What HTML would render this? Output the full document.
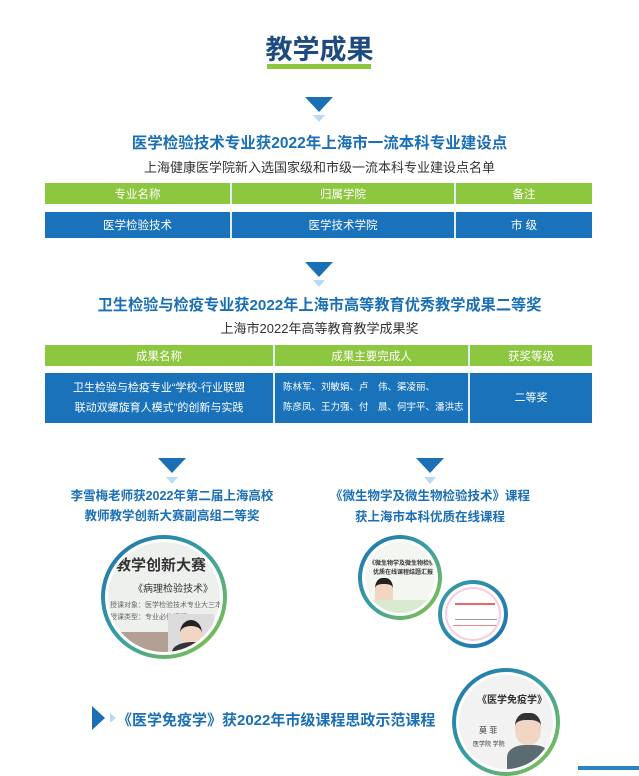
<!DOCTYPE html>
<html><head><meta charset="utf-8"><style>
*{margin:0;padding:0;box-sizing:border-box}
body{width:639px;height:770px;background:#fff;position:relative;overflow:hidden;font-family:"Liberation Sans","Noto Sans CJK SC",sans-serif}
.a{position:absolute}
.c{text-align:center}
.tri{position:absolute;width:0;height:0;border-left:14px solid transparent;border-right:14px solid transparent;border-top:15px solid #1a6fb5}
.tri2{position:absolute;width:0;height:0;border-left:6px solid transparent;border-right:6px solid transparent;border-top:7px solid #b9dcf2}
.h{position:absolute;left:0;width:639px;text-align:center;color:#1a6fb5;font-weight:bold;font-size:15.5px}
.s{position:absolute;left:0;width:639px;text-align:center;color:#333;font-size:13px}
.row{position:absolute;left:45px;width:547px;display:flex;color:#fff;font-size:11.5px}
.row>div{display:flex;align-items:center;justify-content:center;border-right:2px solid #dfeef8}
.row>div:last-child{border-right:none}
.g{background:#8dc63f}.b{background:#1a72bb}
.circ{position:absolute;border-radius:50%;padding:4px;background:linear-gradient(135deg,#1a6fb5,#3aa0a0 50%,#8dc63f)}
.circ>div{width:100%;height:100%;border-radius:50%;background:#fff;padding:3px}
.circ>div>div{width:100%;height:100%;border-radius:50%;background:#eef0ee;overflow:hidden;position:relative;font-size:9px;color:#333}
</style></head><body>
<div class="a c" style="left:0;width:639px;top:28px;font-size:27px;font-weight:bold;color:#1d4a80">教学成果</div>
<div class="a" style="left:267px;top:64px;width:104px;height:5px;background:#8dc63f"></div>

<div class="tri" style="left:305px;top:97px"></div><div class="tri2" style="left:313px;top:115px"></div>
<div class="h" style="top:131px">医学检验技术专业获2022年上海市一流本科专业建设点</div>
<div class="s" style="top:157px">上海健康医学院新入选国家级和市级一流本科专业建设点名单</div>
<div class="row g" style="top:183px;height:21px"><div style="width:187px">专业名称</div><div style="width:224px">归属学院</div><div style="width:136px">备注</div></div>
<div class="row b" style="top:212px;height:26px"><div style="width:187px">医学检验技术</div><div style="width:224px">医学技术学院</div><div style="width:136px">市 级</div></div>

<div class="tri" style="left:305px;top:262px"></div><div class="tri2" style="left:313px;top:280px"></div>
<div class="h" style="top:293px;font-size:15.2px">卫生检验与检疫专业获2022年上海市高等教育优秀教学成果二等奖</div>
<div class="s" style="top:318px">上海市2022年高等教育教学成果奖</div>
<div class="row g" style="top:345px;height:21px"><div style="width:230px">成果名称</div><div style="width:195px">成果主要完成人</div><div style="width:122px">获奖等级</div></div>
<div class="row b" style="top:373px;height:50px;line-height:20px;font-size:11px"><div style="width:230px"><span style="display:block;text-align:center">卫生检验与检疫专业“学校-行业联盟<br>联动双螺旋育人模式”的创新与实践</span></div><div style="width:195px;justify-content:flex-start;padding-left:8px"><span style="display:block;white-space:nowrap;font-size:9.5px">陈林军、刘敏娟、卢　伟、渠凌丽、<br>陈彦凤、王力强、付　晨、何宇平、潘洪志</span></div><div style="width:122px">二等奖</div></div>

<div class="tri" style="left:158px;top:458px"></div><div class="tri2" style="left:166px;top:477px"></div>
<div class="tri" style="left:416px;top:458px"></div><div class="tri2" style="left:424px;top:477px"></div>
<div class="a c" style="left:42px;width:260px;top:486px;color:#1a6fb5;font-weight:bold;font-size:12.5px;line-height:20px">李雪梅老师获2022年第二届上海高校<br>教师教学创新大赛副高组二等奖</div>
<div class="a c" style="left:300px;width:260px;top:486px;color:#1a6fb5;font-weight:bold;font-size:12.5px;line-height:21px">《微生物学及微生物检验技术》课程<br>获上海市本科优质在线课程</div>

<div class="circ" style="left:101px;top:535px;width:126px;height:124px"><div><div>
<div class="a" style="top:12px;left:8px;font-size:15px;font-weight:bold;color:#333">教学创新大赛</div>
<div class="a" style="top:38px;left:25px;font-size:10px">《病理检验技术》</div>
<div class="a" style="top:58px;left:2px;font-size:7px;color:#666;white-space:nowrap">授课对象：医学检验技术专业大三本科生</div>
<div class="a" style="top:70px;left:2px;font-size:7px;color:#666;white-space:nowrap">授课类型：专业必修课程</div>
<div class="a" style="left:60px;top:72px;width:46px;height:50px;background:#dcdcdc"></div>
<div class="a" style="left:72px;top:78px;width:22px;height:26px;border-radius:50%;background:#f1d6c4;border-top:6px solid #222"></div>
<div class="a" style="left:64px;top:100px;width:40px;height:20px;border-radius:50% 50% 0 0;background:#333"></div>
<div class="a" style="left:0;top:90px;width:60px;height:30px;background:#8c6a58;opacity:.6"></div>
</div></div></div>

<div class="circ" style="left:358px;top:535px;width:84px;height:85px"><div><div style="background:#f4f7f1">
<div class="a" style="top:16px;left:4px;font-size:6px;font-weight:bold;white-space:nowrap">《微生物学及微生物检验》</div>
<div class="a" style="top:25px;left:8px;font-size:6px;font-weight:bold;white-space:nowrap">优质在线课程结题汇报</div>
<div class="a" style="left:10px;top:36px;width:18px;height:26px;background:#f1d6c4;border-top:6px solid #222;border-radius:40% 40% 0 0"></div>
<div class="a" style="left:0;top:58px;width:80px;height:20px;background:#d9ead0"></div>
</div></div></div>
<div class="circ" style="left:438px;top:580px;width:70px;height:68px;background:linear-gradient(135deg,#3aa0a0,#1a6fb5)"><div><div style="background:#fff;border:2px solid #f4cde0">
<div class="a" style="top:14px;left:8px;width:40px;height:2px;background:#e66"></div>
<div class="a" style="top:30px;left:8px;width:42px;height:1px;background:#999"></div>
<div class="a" style="top:36px;left:6px;width:44px;height:1px;background:#e88"></div>
</div></div></div>

<div class="a" style="left:92px;top:706px;width:0;height:0;border-top:12px solid transparent;border-bottom:12px solid transparent;border-left:13px solid #1a6fb5"></div>
<div class="a" style="left:110px;top:713px;width:0;height:0;border-top:5px solid transparent;border-bottom:5px solid transparent;border-left:6px solid #b9dcf2"></div>
<div class="a" style="left:117px;top:709px;color:#1a6fb5;font-weight:bold;font-size:15px;white-space:nowrap">《医学免疫学》获2022年市级课程思政示范课程</div>

<div class="circ" style="left:452px;top:668px;width:108px;height:108px"><div><div style="background:#f2f2f2">
<div class="a" style="top:16px;left:18px;font-size:10px;font-weight:bold;white-space:nowrap">《医学免疫学》</div>
<div class="a" style="top:50px;left:20px;font-size:8px">莫 菲</div>
<div class="a" style="top:64px;left:14px;font-size:6px;white-space:nowrap">医学院 学院</div>
<div class="a" style="left:56px;top:38px;width:26px;height:32px;background:#f1d6c4;border-top:7px solid #333;border-radius:40% 40% 45% 45%"></div>
<div class="a" style="left:48px;top:70px;width:44px;height:30px;background:#5b6b72;border-radius:40% 40% 0 0"></div>
</div></div></div>
<div class="a" style="left:578px;top:766px;width:61px;height:4px;background:#2b84c6"></div>
</body></html>
